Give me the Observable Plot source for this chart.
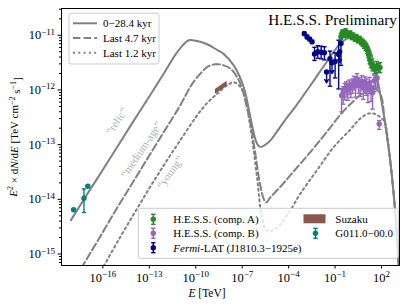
<!DOCTYPE html>
<html><head><meta charset="utf-8">
<script src="https://cdn.jsdelivr.net/npm/d3@7"></script>
<script src="https://cdn.jsdelivr.net/npm/@observablehq/plot@0.6"></script>
<style>body{margin:0;background:#fff}svg{font-family:"Liberation Serif","DejaVu Serif",serif}</style>
</head><body><div id="chart"></div>
<script>
// ---- model curves (log10 E [TeV], log10 E^2 dN/dE) ----
const relicE = [-18.06,-17,-16,-15,-14,-13,-12,-11.3,-10.8,-10.45,-10.0,-9.3,-8.6,-8.2,-7.55,-6.9,-6.47,-6.15,-5.95,-5.75,-5.5,-5.2,-4.8,-4.3,-3.5,-2.5,-1.5,-0.6,0.0,0.5,1.0,1.3,1.6,1.9,2.2,2.5,2.75,2.95,3.1];
const relicF = [-14.38,-13.90,-13.46,-13.01,-12.56,-12.12,-11.67,-11.35,-11.17,-11.09,-11.10,-11.16,-11.27,-11.34,-11.55,-11.95,-12.5,-12.9,-13.02,-13.04,-13.0,-12.93,-12.78,-12.58,-12.28,-11.88,-11.47,-11.13,-11.03,-11.02,-11.12,-11.3,-11.62,-12.05,-12.55,-13.15,-13.8,-14.5,-15.2];
const mediumE = [-17.4,-16,-15,-14,-13,-12,-11,-10.3,-9.7,-9.2,-8.73,-8.3,-7.76,-7.3,-7.0,-6.75,-6.47,-6.15,-5.85,-5.6,-5.45,-5.2,-4.5,-3.8,-3.0,-2.2,-1.4,-0.6,0.2,0.9,1.4,1.9,2.2,2.5,2.75,2.95,3.1];
const mediumF = [-15.26,-14.6,-14.12,-13.66,-13.2,-12.74,-12.28,-11.92,-11.70,-11.57,-11.53,-11.54,-11.61,-11.78,-11.98,-12.25,-12.6,-13.17,-13.72,-14.0,-14.06,-13.97,-13.76,-13.53,-13.27,-13.0,-12.72,-12.43,-12.2,-12.03,-11.97,-12.06,-12.55,-13.15,-13.8,-14.5,-15.2];
const youngE = [-15.94,-15,-14,-13,-12,-11,-10,-9.3,-8.62,-8.0,-7.55,-7.2,-6.9,-6.47,-6.04,-5.72,-5.39,-4.75,-4.0,-3.25,-2.2,-1.1,0,0.63,1.2,1.6,2.0,2.2,2.5,2.75,2.95,3.1];
const youngF = [-15.22,-14.75,-14.27,-13.80,-13.35,-12.92,-12.5,-12.25,-12.07,-11.92,-11.86,-11.92,-12.07,-12.68,-13.6,-14.33,-14.58,-14.52,-14.25,-13.9,-13.48,-13.05,-12.72,-12.52,-12.43,-12.44,-12.52,-12.58,-13.15,-13.8,-14.5,-15.2];

// ---- data points ----
const hessAE = [-0.62,-0.52,-0.42,-0.32,-0.22,-0.12,-0.02,0.08,0.18,0.28,0.38,0.48,0.58,0.68,0.78,0.88,0.98,1.08,1.16,1.24,1.32,1.42,1.55,1.68,1.8,1.9];
const hessAF = [-11.02,-10.95,-10.99,-10.93,-10.98,-11.0,-10.97,-11.03,-11.01,-11.06,-11.04,-11.09,-11.07,-11.12,-11.15,-11.18,-11.22,-11.27,-11.35,-11.45,-11.52,-11.58,-11.62,-11.56,-11.60,-11.59];
const hessAErr = [0.06,0.05,0.05,0.05,0.05,0.05,0.05,0.05,0.05,0.05,0.05,0.05,0.05,0.05,0.05,0.06,0.06,0.06,0.06,0.07,0.07,0.07,0.08,0.08,0.08,0.09];
const hessBE = [-0.58,-0.48,-0.38,-0.28,-0.18,-0.08,0.02,0.12,0.22,0.32,0.42,0.52,0.62,0.72,0.82,0.92,1.02,1.12,1.22,1.32,1.42,1.52,1.62,1.72,1.85];
const hessBF = [-12.1,-12.04,-11.98,-11.95,-11.99,-11.92,-11.96,-11.90,-11.85,-11.93,-11.80,-11.88,-11.92,-11.84,-11.95,-11.86,-11.90,-11.98,-11.87,-11.96,-12.05,-11.83,-11.80,-11.78,-12.62];
const hessBLo = [0.3,0.22,0.2,0.18,0.2,0.16,0.18,0.16,0.15,0.2,0.14,0.18,0.2,0.16,0.22,0.2,0.2,0.25,0.2,0.25,0.3,0.2,0.18,0.18,0.1];
const hessBHi = [0.12,0.1,0.1,0.1,0.1,0.1,0.1,0.1,0.1,0.1,0.1,0.1,0.1,0.1,0.1,0.1,0.1,0.12,0.1,0.12,0.12,0.1,0.1,0.1,0.06];
const fermiE = [-2.99,-2.81,-2.64,-2.49,-2.33,-2.12,-1.9,-1.69,-1.33,-1.0,-0.77,-0.62];
const fermiF = [-10.97,-11.03,-11.07,-11.12,-11.34,-11.30,-11.31,-11.32,-11.43,-11.48,-11.35,-11.15];
const fermiLo = [0.03,0.03,0.03,0.03,0.12,0.12,0.12,0.13,0.5,0.3,0.63,0.4];
const fermiHi = [0.03,0.03,0.03,0.03,0.12,0.11,0.11,0.11,0.14,0.16,0.26,0.1];
const fermiUlE = [-1.55,-1.2,-0.7];
const fermiUlF = [-11.67,-11.5,-11.3];
const radioE = [-17.89,-17.22,-16.97];
const radioF = [-14.19,-13.98,-13.76];
const radioLo = [0.0,0.26,0.0];
const radioHi = [0.0,0.17,0.0];
const suzakuE = [-8.73,-7.97];
const suzakuLo = [-12.08,-11.93];
const suzakuHi = [-11.99,-11.84];

const curveLabels = ["“relic”","“medium-age”","“young”"];
const curveLabelE = [-15.1,-13.5,-11.65];
const curveLabelF = [-12.57,-13.09,-13.51];
const curveLabelRot = [-56,-56,-55];

const xTickExp = [-16,-13,-10,-7,-4,-1,2];
const yTickExp = [-15,-14,-13,-12,-11];

// ---- build tables ----
const p = v => Math.pow(10, v);
const curve = (E,F) => E.map((e,i)=>({x:p(e), y:p(F[i])}));
const relic = curve(relicE, relicF), medium = curve(mediumE, mediumF), young = curve(youngE, youngF);
const pts = (E,F,lo,hi) => E.map((e,i)=>({x:p(e), y:p(F[i]), lo:p(F[i]-lo[i]), hi:p(F[i]+hi[i])}));
const hessA = pts(hessAE, hessAF, hessAErr, hessAErr);
const hessB = pts(hessBE, hessBF, hessBLo, hessBHi);
const fermi = pts(fermiE, fermiF, fermiLo, fermiHi);
const fermiUL = fermiUlE.map((e,i)=>({x:p(e), y:p(fermiUlF[i]), y2:p(fermiUlF[i]-0.2)}));
const radio = pts(radioE, radioF, radioLo, radioHi);
const suzaku = suzakuE.map((e,i)=>({x:p(e), lo:p(suzakuLo[i]), hi:p(suzakuHi[i])}));
const labels = curveLabels.map((t,i)=>({t, x:p(curveLabelE[i]), y:p(curveLabelF[i]), r:curveLabelRot[i]}));

const yMinor = [];
for (let d=-16; d<=-11; d++) for (let k=2; k<=9; k++) { const v=k*p(d); if (v>p(-15.21) && v<p(-10.51)) yMinor.push(v); }

const capSym = {draw(ctx, size){ const w=2.2; ctx.moveTo(-w,0); ctx.lineTo(w,0); }};
const GRAY="#808080";
const C = {A:"#228B22", B:"#9467bd", F:"#00008b", R:"#008080", S:"#8c564b"};

function errMarks(data, color, r=2.7){
  return [
    Plot.ruleX(data, {x:"x", y1:"lo", y2:"hi", stroke:color, strokeWidth:1.4}),
    Plot.dot(data, {x:"x", y:"lo", symbol:capSym, stroke:color, strokeWidth:1.4, r:3}),
    Plot.dot(data, {x:"x", y:"hi", symbol:capSym, stroke:color, strokeWidth:1.4, r:3}),
    Plot.dot(data, {x:"x", y:"y", fill:color, r})
  ];
}

const chart = Plot.plot({
  width:407, height:308,
  marginLeft:61, marginRight:8, marginTop:8, marginBottom:43,
  style:{fontFamily:'"Liberation Serif","DejaVu Serif",serif', fontSize:"11px", background:"white", color:"black"},
  x:{type:"log", domain:[p(-18.67), p(3.16)]},
  y:{type:"log", domain:[p(-15.21), p(-10.51)]},
  marks:[
    Plot.line(relic, {x:"x", y:"y", stroke:GRAY, strokeWidth:2, curve:"catmull-rom", clip:true}),
    Plot.line(medium, {x:"x", y:"y", stroke:GRAY, strokeWidth:2, strokeDasharray:"7.4,3.2", curve:"catmull-rom", clip:true}),
    Plot.line(young, {x:"x", y:"y", stroke:GRAY, strokeWidth:2, strokeDasharray:"2,3.3", curve:"catmull-rom", clip:true}),
    Plot.text(labels, {x:"x", y:"y", text:"t", rotate:d=>d.r, fill:"#b0b0b0", fontSize:11}),
    Plot.areaY(suzaku, {x:"x", y1:"lo", y2:"hi", fill:C.S}),
    ...errMarks(radio, C.R),
    ...errMarks(fermi, C.F),
    Plot.arrow(fermiUL, {x1:"x", y1:"y", x2:"x", y2:"y2", stroke:C.F, strokeWidth:1.4, headLength:4}),
    Plot.dot(fermiUL, {x:"x", y:"y", fill:C.F, r:2.7}),
    ...errMarks(hessB, C.B),
    ...errMarks(hessA, C.A),
    Plot.axisX({ticks:xTickExp.map(p), tickFormat:d=>"10^"+Math.round(Math.log10(d)), tickSize:3.5, tickPadding:4, label:null, fontSize:12.5}),
    Plot.axisY({ticks:yMinor, tickFormat:()=>"", tickSize:2, label:null}),
    Plot.axisY({ticks:yTickExp.map(p), tickFormat:d=>"10^"+Math.round(Math.log10(d)), tickSize:3.5, tickPadding:3, label:null, fontSize:12.5}),
    Plot.frame({stroke:"black", strokeWidth:1})
  ]
});
document.getElementById("chart").appendChild(chart);

const svg = d3.select(chart);
// superscript tick labels
svg.selectAll('g[aria-label$="tick label"] text').each(function(){
  const s = this.textContent; if (!s.includes("^")) return;
  const ex = s.split("^")[1].replace("-", "−");
  const t = d3.select(this); t.text("");
  t.append("tspan").text("10");
  t.append("tspan").attr("dy","-0.5em").attr("font-size","9px").text(ex);
});

// title
svg.append("text").attr("x",397).attr("y",25).attr("text-anchor","end").attr("font-size","15.3px").text("H.E.S.S. Preliminary");

// axis labels
const yl = svg.append("text").attr("transform","translate(17,137) rotate(-90)").attr("text-anchor","middle").attr("font-size","11px");
yl.append("tspan").attr("font-style","italic").text("E");
yl.append("tspan").attr("dy","-0.45em").attr("font-size","8px").text("2");
yl.append("tspan").attr("dy","0.45em").text(" × d");
yl.append("tspan").attr("font-style","italic").text("N");
yl.append("tspan").text("/d");
yl.append("tspan").attr("font-style","italic").text("E");
yl.append("tspan").text(" [TeV cm");
yl.append("tspan").attr("dy","-0.45em").attr("font-size","8px").text("−2");
yl.append("tspan").attr("dy","0.45em").text(" s");
yl.append("tspan").attr("dy","-0.45em").attr("font-size","8px").text("−1");
yl.append("tspan").attr("dy","0.45em").text("]");

const xl = svg.append("text").attr("x",207).attr("y",297).attr("text-anchor","middle").attr("font-size","11.5px");
xl.append("tspan").attr("font-style","italic").text("E");
xl.append("tspan").text(" [TeV]");

// legend 1 (models)
const L1 = svg.append("g").attr("text-anchor","start");
L1.append("rect").attr("x",69).attr("y",13.3).attr("width",90).attr("height",50.7).attr("rx",2).attr("fill","white").attr("fill-opacity",0.8).attr("stroke","#cccccc");
[["0−28.4 kyr",null],["Last 4.7 kyr","7.4,3.2"],["Last 1.2 kyr","2,3.3"]].forEach(([t,da],i)=>{
  const y = 23.3 + i*14.7;
  const ln = L1.append("line").attr("x1",73).attr("x2",97).attr("y1",y).attr("y2",y).attr("stroke",GRAY).attr("stroke-width",2);
  if (da) ln.attr("stroke-dasharray",da);
  L1.append("text").attr("x",103).attr("y",y+3.8).attr("font-size","11px").attr("text-anchor","start").text(t);
});

// legend 2 (data)
const L2 = svg.append("g").attr("text-anchor","start");
L2.append("rect").attr("x",138.3).attr("y",208.3).attr("width",260).attr("height",50).attr("rx",2).attr("fill","white").attr("fill-opacity",0.8).attr("stroke","#cccccc");
function legMarker(x,y,c){
  L2.append("line").attr("x1",x).attr("x2",x).attr("y1",y-5).attr("y2",y+5).attr("stroke",c).attr("stroke-width",1.4);
  L2.append("line").attr("x1",x-2.2).attr("x2",x+2.2).attr("y1",y-5).attr("y2",y-5).attr("stroke",c).attr("stroke-width",1.4);
  L2.append("line").attr("x1",x-2.2).attr("x2",x+2.2).attr("y1",y+5).attr("y2",y+5).attr("stroke",c).attr("stroke-width",1.4);
  L2.append("circle").attr("cx",x).attr("cy",y).attr("r",2.7).attr("fill",c);
}
const rows = [219.3, 233.3, 247.7];
legMarker(153.3, rows[0], C.A);
L2.append("text").attr("x",173.3).attr("y",rows[0]+3.8).text("H.E.S.S. (comp. A)");
legMarker(153.3, rows[1], C.B);
L2.append("text").attr("x",173.3).attr("y",rows[1]+3.8).text("H.E.S.S. (comp. B)");
legMarker(153.3, rows[2], C.F);
const ft = L2.append("text").attr("x",173.3).attr("y",rows[2]+3.8);
ft.append("tspan").attr("font-style","italic").text("Fermi");
ft.append("tspan").text("-LAT (J1810.3−1925e)");
L2.append("rect").attr("x",303.5).attr("y",rows[0]-5).attr("width",22).attr("height",9).attr("fill",C.S);
L2.append("text").attr("x",335.3).attr("y",rows[0]+3.8).text("Suzaku");
legMarker(315.5, rows[1], C.R);
L2.append("text").attr("x",335.3).attr("y",rows[1]+3.8).text("G011.0−00.0");
L2.selectAll("text").attr("font-size","11px").attr("text-anchor","start");
</script>
</body></html>
